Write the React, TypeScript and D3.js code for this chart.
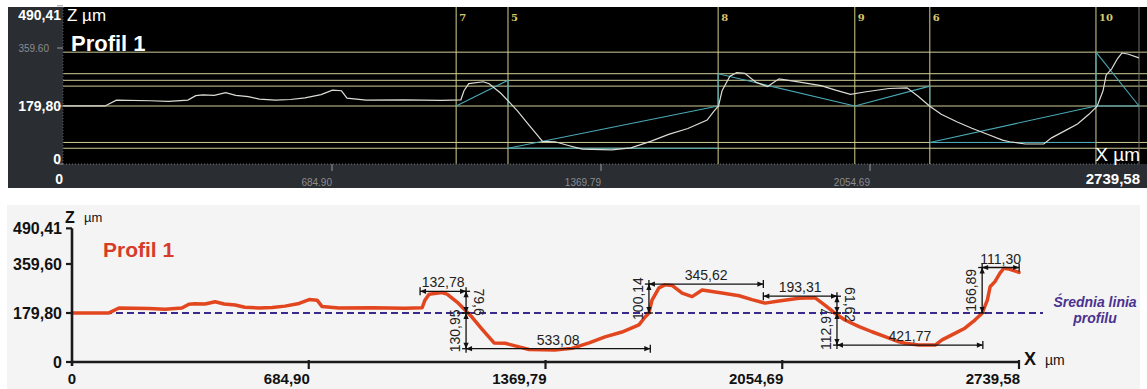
import * as d3 from "d3";
import React from "react";

const FONT = "'Liberation Sans', Arial, sans-serif";

// profile (x µm, z µm)
const profileX = [0, 107, 136, 223, 269, 318, 338, 356, 385, 414, 440, 472, 500, 541, 579, 616, 657, 686, 709, 723,
  772, 868, 963, 1013, 1021, 1033, 1070, 1085, 1114, 1137, 1157, 1186, 1221, 1253, 1282, 1322, 1397, 1446, 1496, 1542,
  1591, 1640, 1658, 1669, 1678, 1698, 1715, 1736, 1765, 1794, 1823, 1880, 1930, 1967, 2005, 2045, 2103, 2149, 2178, 2207,
  2236, 2277, 2314, 2352, 2392, 2410, 2450, 2497, 2517, 2554, 2583, 2612, 2633, 2648, 2656, 2670, 2685, 2696, 2711, 2739.58];
const profileZ = [180, 180, 198, 196, 194, 198, 212, 214, 213, 221, 213, 209, 201, 198, 200, 205, 215, 229, 227, 204,
  198, 199, 197, 199, 227, 249, 255, 249, 220, 191, 165, 121, 70, 69, 59, 46, 44, 50, 70, 92,
  110, 136, 165, 180, 227, 272, 283, 281, 253, 240, 264, 253, 243, 229, 216, 224, 234, 236, 209, 179,
  154, 130, 111, 93, 74, 69, 62, 62, 81, 105, 124, 154, 179, 227, 276, 295, 327, 344, 341, 329];

const xTickValues = [0, 684.9, 1369.79, 2054.69, 2739.58];
const xTickLabels = ["0", "684,90", "1369,79", "2054,69", "2739,58"];
const topXTickLabels = ["0", "684.90", "1369.79", "2054.69", "2739,58"];
const zTickValues = [0, 179.8, 359.6, 490.41];
const zTickLabels = ["0", "179,80", "359,60", "490,41"];
const topZTickLabels = ["0", "179,80", "359.60", "490,41"];
const meanZ = 179.8;

// dimension lines of the lower chart
const hDimX1 = [1007, 1140, 1669, 2000, 2213, 2633];
const hDimX2 = [1140, 1673, 2000, 2213, 2635, 2740];
const hDimZ = [259.4, 48.85, 286, 241.4, 62, 346.7];
const hDimLabels = ["132,78", "533,08", "345,62", "193,31", "421,77", "111,30"];

const vDimX = [1140, 1140, 1669, 2213, 2213, 2633];
const vDimZ1 = [179.8, 48.85, 179.8, 179.8, 62, 179.8];
const vDimZ2 = [259.4, 179.8, 286, 241.4, 179.8, 346.7];
const vDimLabels = ["79,6", "130,95", "100,14", "61,62", "112,97", "166,89"];
const vDimSide = [1, -1, -1, 1, -1, -1];

// instrument screenshot (upper panel)
const markerX = [1001, 1133, 1668, 2016, 2207, 2630];
const markerLabels = ["7", "5", "8", "9", "6", "10"];
const levelZ = [346.69, 279.94, 259.4, 241.42, 179.8, 66.83, 48.85];
const guideX1 = [1001, 1133, 1133, 1133, 1668, 1668, 2016, 2207, 2207, 2207, 2630, 2630, 2630];
const guideZ1 = [179.8, 259.4, 48.85, 48.85, 179.8, 279.94, 179.8, 241.42, 66.83, 66.83, 179.8, 346.69, 179.8];
const guideX2 = [1133, 1133, 1668, 1668, 1668, 2016, 2207, 2207, 2630, 2630, 2630, 2739.58, 2739.58];
const guideZ2 = [259.4, 179.8, 48.85, 179.8, 279.94, 179.8, 241.42, 179.8, 66.83, 179.8, 346.69, 179.8, 179.8];

const profile = profileX.map((x, i) => [x, profileZ[i]] as [number, number]);

function HDim({ x1, x2, y }: { x1: number; x2: number; y: number }) {
  return (
    <g stroke="#111" fill="#111">
      <line x1={x1} x2={x2} y1={y} y2={y} strokeWidth={1.3} />
      <line x1={x1} x2={x1} y1={y - 4} y2={y + 4} strokeWidth={1.3} />
      <line x1={x2} x2={x2} y1={y - 4} y2={y + 4} strokeWidth={1.3} />
      <path d={`M${x1},${y}L${x1 + 6},${y - 2.6}L${x1 + 6},${y + 2.6}Z`} stroke="none" />
      <path d={`M${x2},${y}L${x2 - 6},${y - 2.6}L${x2 - 6},${y + 2.6}Z`} stroke="none" />
    </g>
  );
}

function VDim({ x, y1, y2 }: { x: number; y1: number; y2: number }) {
  const a = Math.min(y1, y2), b = Math.max(y1, y2);
  return (
    <g stroke="#111" fill="#111">
      <line x1={x} x2={x} y1={a} y2={b} strokeWidth={1.3} />
      <line x1={x - 4} x2={x + 4} y1={a} y2={a} strokeWidth={1.3} />
      <line x1={x - 4} x2={x + 4} y1={b} y2={b} strokeWidth={1.3} />
      <path d={`M${x},${a}L${x - 2.6},${a + 6}L${x + 2.6},${a + 6}Z`} stroke="none" />
      <path d={`M${x},${b}L${x - 2.6},${b - 6}L${x + 2.6},${b - 6}Z`} stroke="none" />
    </g>
  );
}

export default function App() {
  // upper panel scales
  const xTop = d3.scaleLinear().domain([0, 2739.58]).range([63, 1139]);
  const zTop = d3.scaleLinear().domain([0, 179.8]).range([164, 106]);
  // lower panel scales
  const xBot = d3.scaleLinear().domain([0, 2739.58]).range([72, 1019]);
  const zBot = d3.scaleLinear().domain([0, 179.8]).range([362, 313]);

  const topLine = d3.line<[number, number]>().x((d) => xTop(d[0])).y((d) => zTop(d[1]));
  const botLine = d3.line<[number, number]>().x((d) => xBot(d[0])).y((d) => zBot(d[1]));

  return (
    <svg width={1147} height={389} style={{ position: "absolute", left: 0, top: 0, background: "#fff" }}>
      {/* ---------- upper panel ---------- */}
      <rect x={8} y={7} width={1139} height={181} fill="#2a2d32" />
      <rect x={63} y={7} width={1084} height={157} fill="#000" />
      {levelZ.map((z, i) => (
        <line key={"lv" + i} x1={63} x2={1147} y1={zTop(z)} y2={zTop(z)} stroke="#cfcd98" strokeWidth={1} />
      ))}
      {markerX.map((x, i) => (
        <g key={"mk" + i}>
          <line x1={xTop(x)} x2={xTop(x)} y1={7} y2={164} stroke="#d4d08c" strokeWidth={1} />
          <text x={xTop(x) + 3} y={21} fill="#d9c96a" fontSize={10} fontWeight="bold" fontFamily="'DejaVu Serif', serif">
            {markerLabels[i]}
          </text>
        </g>
      ))}
      <line x1={xTop(2739.58)} x2={xTop(2739.58)} y1={7} y2={164} stroke="#77776a" strokeWidth={1} />
      {guideX1.map((x, i) => (
        <line key={"gd" + i} x1={xTop(x)} y1={zTop(guideZ1[i])} x2={xTop(guideX2[i])} y2={zTop(guideZ2[i])}
          stroke="#4aa9b6" strokeWidth={1.1} />
      ))}
      <path d={topLine(profile) || ""} fill="none" stroke="#dcdcd4" strokeWidth={1.2} />
      <line x1={63} x2={1139} y1={164} y2={164} stroke="#6a6e74" strokeWidth={1} strokeDasharray="1,2" />
      <line x1={63} x2={63} y1={7} y2={164} stroke="#555a60" strokeWidth={1} strokeDasharray="1,2" />
      {xTickValues.slice(1, 4).map((v, i) => (
        <g key={"tx" + i}>
          <line x1={xTop(v)} x2={xTop(v)} y1={164} y2={171} stroke="#9a9a9a" />
          <text x={xTop(v)} y={186} textAnchor="end" fill="#8a8c90" fontSize={10} fontFamily={FONT}>
            {topXTickLabels[i + 1]}
          </text>
        </g>
      ))}
      <text x={63} y={184} textAnchor="end" fill="#fff" fontSize={14} fontWeight="bold" fontFamily={FONT}>{topXTickLabels[0]}</text>
      <text x={1140} y={184} textAnchor="end" fill="#fff" fontSize={15} fontWeight="bold" fontFamily={FONT}>{topXTickLabels[4]}</text>
      {zTickValues.map((v, i) => {
        const y = Math.min(Math.max(zTop(v), 15), 159);
        const small = i === 2;
        return (
          <g key={"tz" + i}>
            <line x1={57} x2={63} y1={zTop(v)} y2={zTop(v)} stroke="#9a9a9a" />
            <text x={small ? 49 : 61} y={y + (small ? 4 : 5)} textAnchor="end"
              fill={small ? "#8a8c90" : "#fff"} fontSize={small ? 10 : 14} fontWeight={small ? "normal" : "bold"} fontFamily={FONT}>
              {topZTickLabels[i]}
            </text>
          </g>
        );
      })}
      <text x={67} y={21} fill="#fff" fontSize={17} fontFamily={FONT}>Z µm</text>
      <text x={71} y={51} fill="#fff" fontSize={22} fontWeight="bold" fontFamily={FONT}>Profil 1</text>
      <text x={1140} y={161} textAnchor="end" fill="#fff" fontSize={19} fontFamily={FONT}>X µm</text>

      {/* ---------- lower panel ---------- */}
      <rect x={7} y={205} width={1133} height={184} fill="#f4f4f4" />
      <line x1={xBot(0)} x2={1043} y1={zBot(meanZ)} y2={zBot(meanZ)} stroke="#3b2a8c" strokeWidth={2.2} strokeDasharray="7,4" />
      <path d={botLine(profile) || ""} fill="none" stroke="#e2461f" strokeWidth={3.5} strokeLinejoin="round" strokeLinecap="round" />

      {hDimX1.map((x, i) => {
        const a = xBot(x), b = xBot(hDimX2[i]), y = zBot(hDimZ[i]);
        return (
          <g key={"hd" + i}>
            <HDim x1={a} x2={b} y={y} />
            <text x={(a + b) / 2} y={y - 4} textAnchor="middle" fill="#222" fontSize={14} fontFamily={FONT}>{hDimLabels[i]}</text>
          </g>
        );
      })}
      {vDimX.map((x, i) => {
        const px = xBot(x), y1 = zBot(vDimZ1[i]), y2 = zBot(vDimZ2[i]);
        const cx = px + (vDimSide[i] > 0 ? 13 : -11), cy = (y1 + y2) / 2;
        return (
          <g key={"vd" + i}>
            <VDim x={px} y1={y1} y2={y2} />
            <text transform={`translate(${cx},${cy}) rotate(${vDimSide[i] > 0 ? 90 : -90})`} textAnchor="middle"
              dominantBaseline="central" fill="#222" fontSize={14} fontFamily={FONT}>{vDimLabels[i]}</text>
          </g>
        );
      })}

      {/* axes */}
      <line x1={xBot(0)} x2={xBot(0)} y1={zBot(490.41)} y2={zBot(0) + 4} stroke="#1a1a1a" strokeWidth={2.6} />
      <line x1={xBot(0) - 1} x2={xBot(2739.58)} y1={zBot(0)} y2={zBot(0)} stroke="#1a1a1a" strokeWidth={2.6} />
      {zTickValues.map((v, i) => (
        <g key={"bz" + i}>
          <line x1={xBot(0) - 6} x2={xBot(0)} y1={zBot(v)} y2={zBot(v)} stroke="#1a1a1a" strokeWidth={2.2} />
          <text x={62} y={zBot(v) + 6} textAnchor="end" fill="#111" fontSize={16} fontWeight="bold" fontFamily={FONT}>
            {zTickLabels[i]}
          </text>
        </g>
      ))}
      {xTickValues.map((v, i) => (
        <g key={"bx" + i}>
          {i > 0 && <line x1={xBot(v)} x2={xBot(v)} y1={zBot(0) - 2} y2={zBot(0) + 7} stroke="#1a1a1a" strokeWidth={2.2} />}
          <text x={i === 0 ? xBot(v) : xBot(v) + 1} y={384} textAnchor={i === 0 ? "middle" : "end"} fill="#111"
            fontSize={15} fontWeight="bold" fontFamily={FONT}>
            {xTickLabels[i]}
          </text>
        </g>
      ))}
      <text x={65} y={223} fill="#111" fontSize={16} fontWeight="bold" fontFamily={FONT}>Z</text>
      <text x={84} y={222} fill="#111" fontSize={13} fontFamily={FONT}>µm</text>
      <text x={1024} y={365} fill="#111" fontSize={18} fontWeight="bold" fontFamily={FONT}>X</text>
      <text x={1045} y={365} fill="#111" fontSize={14} fontFamily={FONT}>µm</text>
      <text x={103} y={257} fill="#d63c2a" fontSize={21} fontWeight="bold" fontFamily={FONT}>Profil 1</text>
      <text x={1095} y={307} textAnchor="middle" fill="#4a3290" fontSize={14} fontWeight="bold" fontStyle="italic" fontFamily={FONT}>
        Średnia linia
      </text>
      <text x={1095} y={323} textAnchor="middle" fill="#4a3290" fontSize={14} fontWeight="bold" fontStyle="italic" fontFamily={FONT}>
        profilu
      </text>
    </svg>
  );
}
